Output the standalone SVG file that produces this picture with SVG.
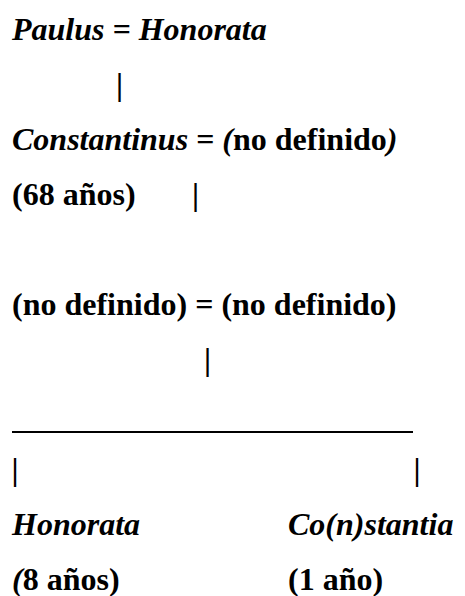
<svg xmlns="http://www.w3.org/2000/svg" width="465" height="596" viewBox="0 0 465 596" font-family="Liberation Serif, Times New Roman, serif" font-size="32" font-weight="bold">
<style>
.i{font-style:italic}
.u{font-style:normal}
</style>
<rect width="465" height="596" fill="#fff"/>
<g id="connectors">
<text x="116" y="95">|</text>
<text x="192" y="205">|</text>
<text x="204" y="370">|</text>
<line x1="12" y1="432" x2="413" y2="432" stroke="#000" stroke-width="2"/>
<text x="11.5" y="480">|</text>
<text x="413.5" y="480">|</text>
</g>
<g id="paulus-honorata">
<text x="12" y="40" class="i">Paulus = Honorata</text>
</g>
<g id="constantinus">
<text x="12" y="150" class="i">Constantinus = (<tspan class="u">no definido</tspan>)</text>
<text x="12" y="205">(68 años)</text>
</g>
<g id="unknown-couple">
<text x="12" y="315">(no definido) = (no definido)</text>
</g>
<g id="honorata">
<text x="12" y="535" class="i">Honorata</text>
<text x="12" y="590"><tspan class="i">(</tspan>8 años)</text>
</g>
<g id="constantia">
<text x="288" y="535" class="i">Co(n)stantia</text>
<text x="288" y="590">(1 año)</text>
</g>
</svg>
